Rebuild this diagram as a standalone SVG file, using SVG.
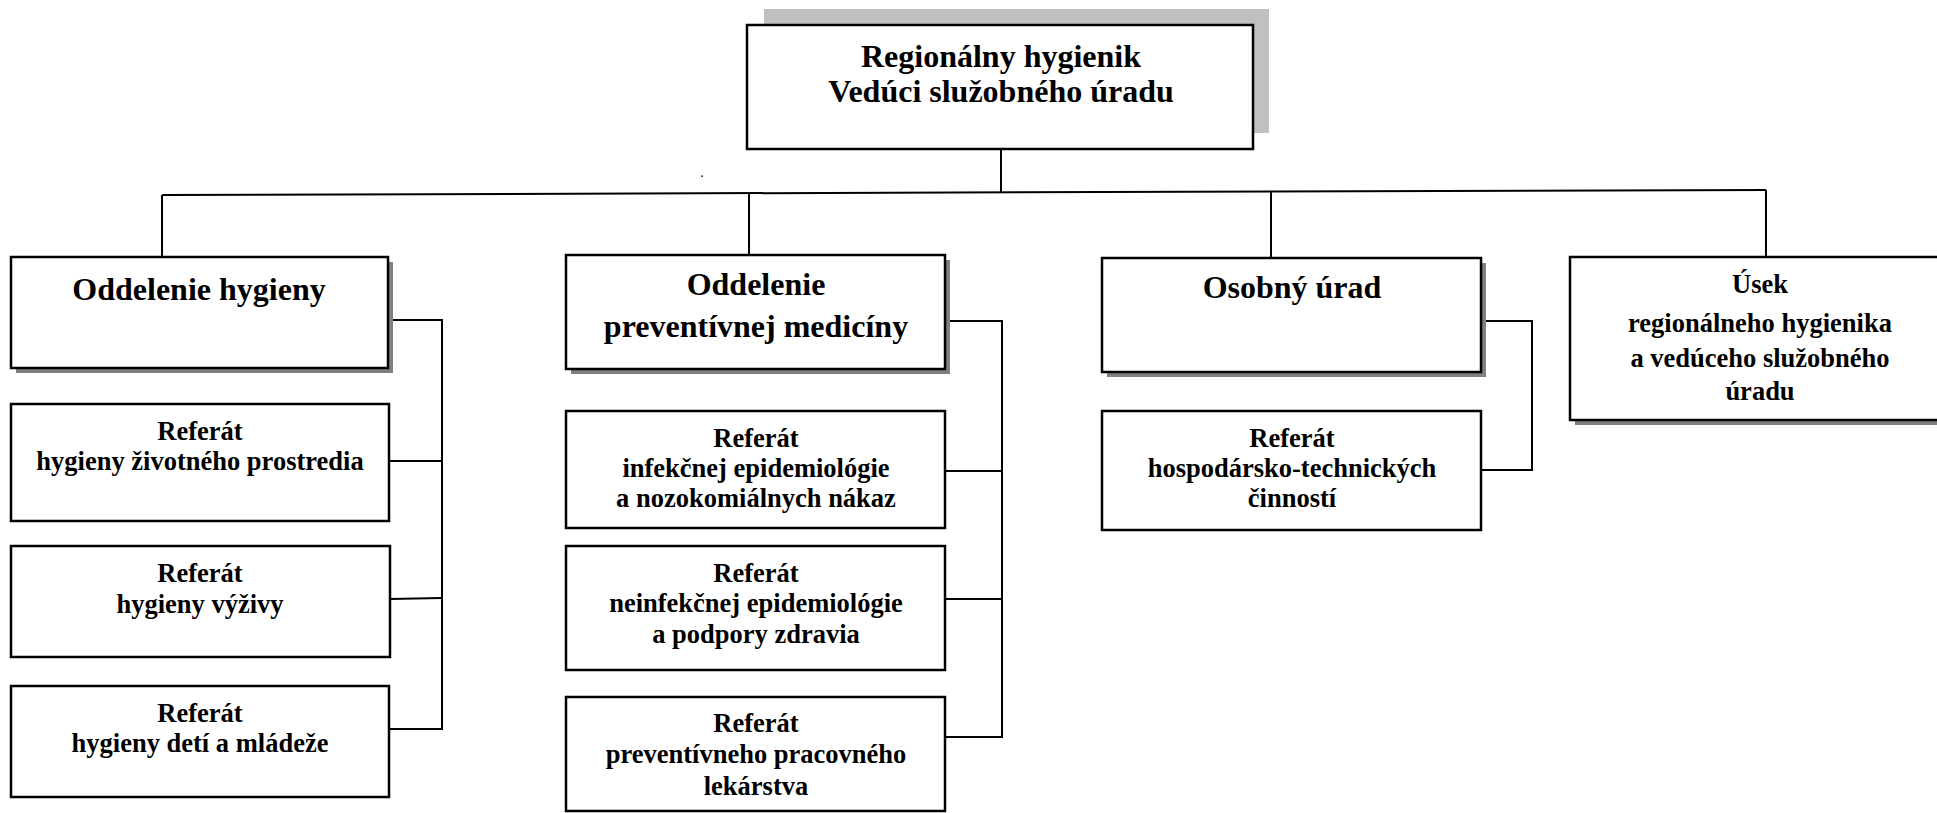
<svg xmlns="http://www.w3.org/2000/svg" width="1937" height="813" viewBox="0 0 1937 813">
<style>
.box{fill:#fff;stroke:#000;stroke-width:2.5}
.sh{fill:#808080}
.ln{fill:none;stroke:#000;stroke-width:2}
.h{font-size:32px}
.r{font-size:26.5px}
</style>
<rect width="1937" height="813" fill="#fff"/>
<g id="connectors">
<line class="ln" x1="1001" y1="149" x2="1001" y2="192"/>
<line class="ln" x1="162" y1="195" x2="1766" y2="190"/>
<line class="ln" x1="162" y1="195" x2="162" y2="257"/>
<line class="ln" x1="749" y1="193" x2="749" y2="255"/>
<line class="ln" x1="1271" y1="192" x2="1271" y2="258"/>
<line class="ln" x1="1766" y1="190" x2="1766" y2="257"/>
<polyline class="ln" points="388,320 442,320 442,729 388,729"/>
<line class="ln" x1="388" y1="461" x2="442" y2="461"/>
<line class="ln" x1="390" y1="599" x2="442" y2="598"/>
<polyline class="ln" points="945,321 1002,321 1002,737 945,737"/>
<line class="ln" x1="945" y1="471" x2="1002" y2="471"/>
<line class="ln" x1="945" y1="599" x2="1002" y2="599"/>
<polyline class="ln" points="1481,321 1532,321 1532,470 1481,470"/>
</g>
<g font-family="Liberation Serif, Times New Roman, serif" font-weight="bold" text-anchor="middle" fill="#000">
<g id="n-top">
<rect x="764" y="9" width="505" height="124" fill="#c0c0c0"/>
<rect class="box" x="747" y="25" width="506" height="124"/>
<text class="h" x="1001" y="67">Regionálny hygienik</text>
<text class="h" x="1001" y="102">Vedúci služobného úradu</text>
</g>
<text x="702" y="177" font-size="14" font-weight="normal">.</text>
<g id="n-odd-hyg">
<rect class="sh" x="16" y="262" width="377" height="111"/>
<rect class="box" x="11" y="257" width="377" height="111"/>
<text class="h" x="199" y="300">Oddelenie hygieny</text>
</g>
<g id="n-ref-zp">
<rect class="box" x="11" y="404" width="378" height="117"/>
<text class="r" x="200" y="440">Referát</text>
<text class="r" x="200" y="470">hygieny životného prostredia</text>
</g>
<g id="n-ref-vy">
<rect class="box" x="11" y="546" width="379" height="111"/>
<text class="r" x="200" y="582">Referát</text>
<text class="r" x="200" y="613">hygieny výživy</text>
</g>
<g id="n-ref-dm">
<rect class="box" x="11" y="686" width="378" height="111"/>
<text class="r" x="200" y="722">Referát</text>
<text class="r" x="200" y="752">hygieny detí a mládeže</text>
</g>
<g id="n-odd-pm">
<rect class="sh" x="571" y="260" width="379" height="114"/>
<rect class="box" x="566" y="255" width="379" height="114"/>
<text class="h" x="756" y="295">Oddelenie</text>
<text class="h" x="756" y="337">preventívnej medicíny</text>
</g>
<g id="n-ref-ie">
<rect class="box" x="566" y="411" width="379" height="117"/>
<text class="r" x="756" y="447">Referát</text>
<text class="r" x="756" y="477">infekčnej epidemiológie</text>
<text class="r" x="756" y="507">a nozokomiálnych nákaz</text>
</g>
<g id="n-ref-ne">
<rect class="box" x="566" y="546" width="379" height="124"/>
<text class="r" x="756" y="582">Referát</text>
<text class="r" x="756" y="612">neinfekčnej epidemiológie</text>
<text class="r" x="756" y="643">a podpory zdravia</text>
</g>
<g id="n-ref-pp">
<rect class="box" x="566" y="697" width="379" height="114"/>
<text class="r" x="756" y="732">Referát</text>
<text class="r" x="756" y="763">preventívneho pracovného</text>
<text class="r" x="756" y="795">lekárstva</text>
</g>
<g id="n-osob">
<rect class="sh" x="1107" y="263" width="379" height="114"/>
<rect class="box" x="1102" y="258" width="379" height="114"/>
<text class="h" x="1292" y="298">Osobný úrad</text>
</g>
<g id="n-ref-ht">
<rect class="box" x="1102" y="411" width="379" height="119"/>
<text class="r" x="1292" y="447">Referát</text>
<text class="r" x="1292" y="477">hospodársko-technických</text>
<text class="r" x="1292" y="507">činností</text>
</g>
<g id="n-usek">
<rect class="sh" x="1575" y="262" width="380" height="163"/>
<rect class="box" x="1570" y="257" width="380" height="163"/>
<text class="r" x="1760" y="293">Úsek</text>
<text class="r" x="1760" y="332">regionálneho hygienika</text>
<text class="r" x="1760" y="367">a vedúceho služobného</text>
<text class="r" x="1760" y="400">úradu</text>
</g>
</g>
</svg>
